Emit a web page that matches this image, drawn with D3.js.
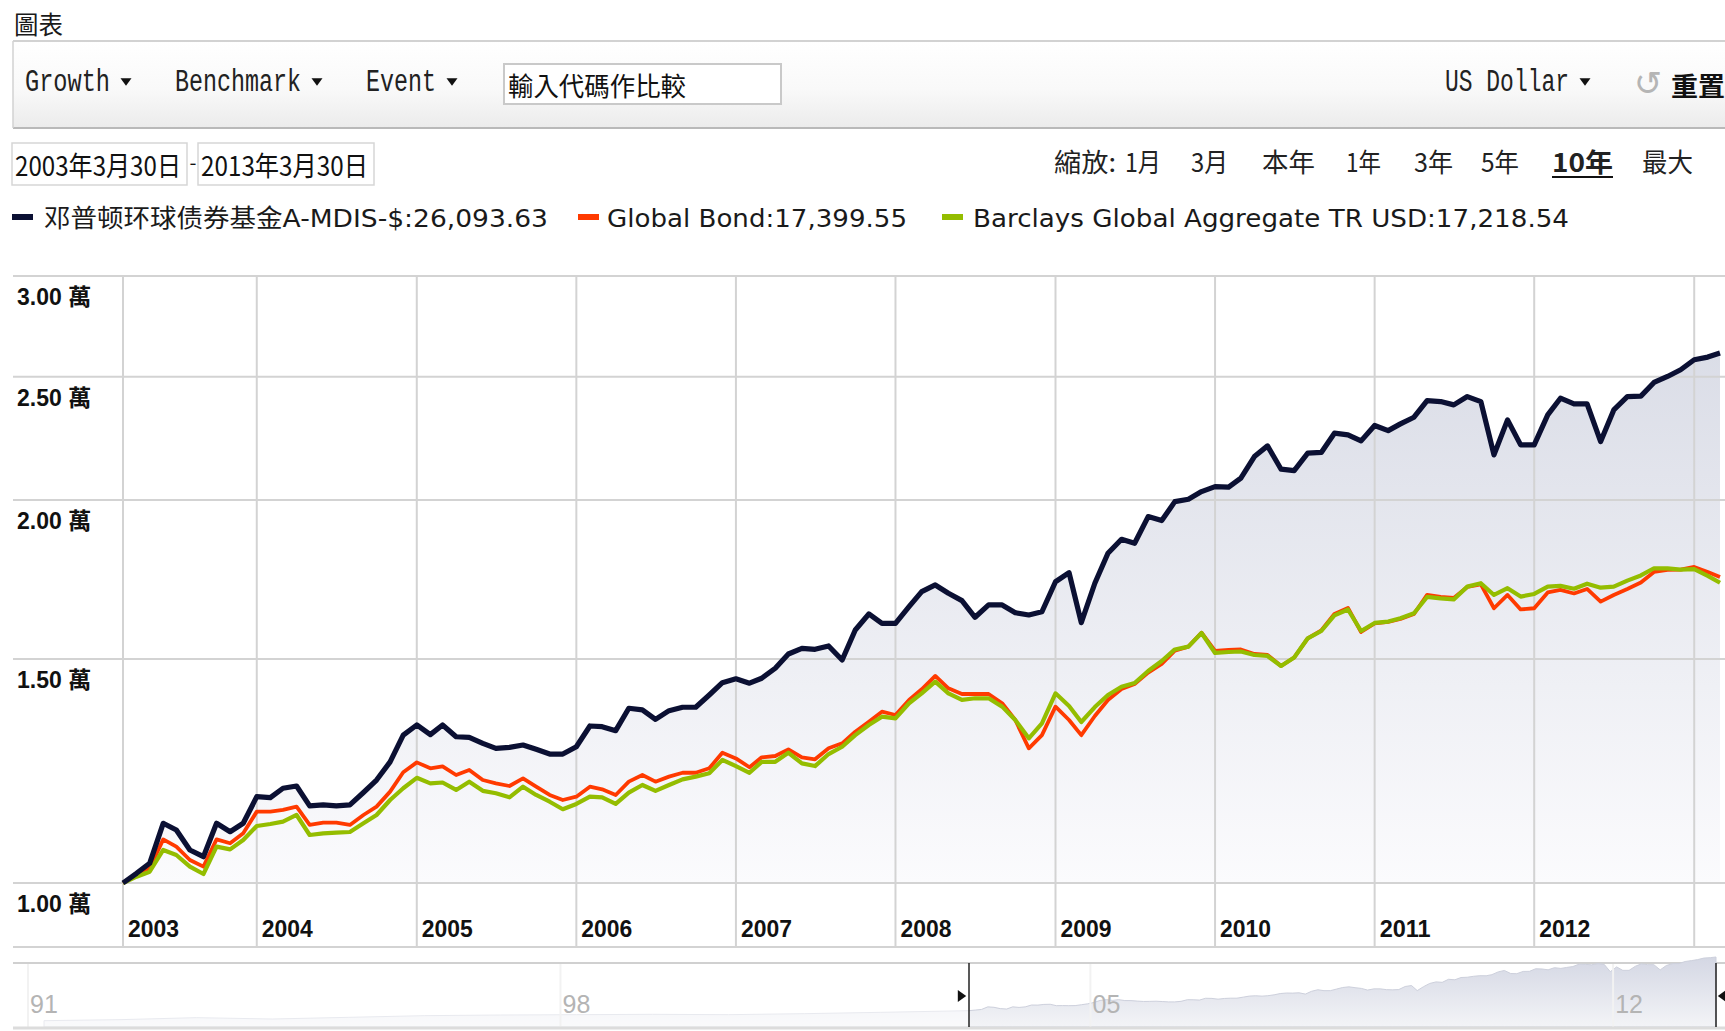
<!DOCTYPE html>
<html><head><meta charset="utf-8">
<script src="https://cdn.jsdelivr.net/npm/d3@7/dist/d3.min.js"></script>
<style>body{margin:0;background:#fff;overflow:hidden}svg{display:block}</style>
</head><body>
<svg id="c" width="1725" height="1031"></svg>
<script>
// ---------------- DATA ----------------
const chartTitle = "圖表";
const toolbarMenus = ["Growth", "Benchmark", "Event"];
const compareInput = "輸入代碼作比較";
const currencyMenu = "US Dollar";
const resetLabel = "重置";
const dateFrom = "2003年3月30日";
const dateTo = "2013年3月30日";
const zoomPrefix = "縮放:";
const zoomOptions = ["1月", "3月", "本年", "1年", "3年", "5年", "10年", "最大"];
const zoomActive = "10年";
const seriesNames = ["邓普顿环球债券基金A-MDIS-$", "Global Bond", "Barclays Global Aggregate TR USD"];
const seriesEndValues = ["26,093.63", "17,399.55", "17,218.54"];
const seriesColors = ["#0b1033", "#ff3a00", "#94bd00"];

// monthly growth of 10,000 (Mar 2003 .. Mar 2013)
const fundValues = [
10000,10177,10363,11141,11007,10616,10488,11141,10973,11141,
11691,11670,11870,11919,11497,11518,11497,11518,11780,12049,
12452,13068,13311,13080,13311,13031,13015,12876,12760,12783,
12836,12737,12629,12629,12797,13287,13270,13175,13720,13678,
13448,13660,13745,13745,14054,14370,14470,14357,14485,14750,
15136,15293,15264,15357,14973,15808,16273,16000,16000,16490,
16944,17151,16895,16670,16176,16541,16541,16312,16244,16340,
17250,17537,16019,17204,18163,18629,18495,19410,19270,19942,
20029,20307,20492,20470,20806,21636,22059,21148,21094,21769,
21800,22572,22503,22260,22890,22678,22955,23234,23944,23900,
23758,24118,23900,21702,23121,22099,22099,23331,24047,23801,
23801,22232,23543,24118,24140,24743,25013,25317,25780,25905,
26094];
const bondValues = [
10000,10146,10269,10822,10680,10425,10300,10822,10745,10941,
11379,11379,11414,11482,11108,11154,11154,11108,11310,11482,
11798,12220,12440,12307,12350,12159,12270,12049,11977,11919,
12086,11904,11727,11621,11691,11904,11847,11727,12013,12159,
12013,12123,12208,12208,12307,12660,12530,12330,12554,12584,
12737,12554,12509,12760,12876,13151,13390,13635,13554,13928,
14199,14546,14225,14079,14079,14079,13845,13431,12760,13068,
13760,13431,13068,13529,13928,14207,14336,14633,14865,15227,
15338,15731,15219,15246,15260,15136,15109,14811,15040,15572,
15793,16273,16451,15751,15996,16039,16127,16273,16843,16782,
16751,17089,17167,16442,16843,16406,16442,16919,16996,16888,
17027,16640,16843,17027,17229,17559,17623,17635,17719,17559,
17400];
const aggValues = [
10000,10115,10207,10616,10520,10300,10164,10680,10628,10809,
11087,11127,11175,11310,10908,10941,10954,10967,11141,11310,
11621,11870,12097,11977,11995,11834,12013,11815,11763,11678,
11904,11727,11585,11428,11538,11691,11678,11538,11776,11941,
11815,11941,12064,12123,12197,12495,12357,12208,12452,12452,
12659,12417,12357,12629,12797,13068,13311,13512,13473,13845,
14096,14396,14096,13928,13970,13970,13760,13431,12993,13350,
14096,13778,13383,13750,14054,14266,14362,14678,14946,15261,
15338,15723,15164,15191,15205,15109,15082,14811,15040,15572,
15779,16230,16406,15779,16011,16050,16150,16294,16782,16738,
16707,17098,17204,16843,17049,16793,16873,17098,17121,17035,
17190,17065,17098,17286,17449,17677,17670,17635,17647,17433,
17219];
const yTicks = [10000, 15000, 20000, 25000, 30000];
const yTickLabels = ["1.00 萬", "1.50 萬", "2.00 萬", "2.50 萬", "3.00 萬"];
const yearLabels = ["2003","2004","2005","2006","2007","2008","2009","2010","2011","2012"];
// navigator: long history before the selected window (estimated)
const navEarlyYears = [1991,1992,1993,1994,1995,1996,1997,1998,1999,2000,2001,2002];
const navEarlyValues = [7000,7300,7900,7500,8000,8500,8700,8800,8900,8800,9100,9500];
const navTickYears = [1991, 1998, 2005, 2012];
const navTickLabels = ["91", "98", "05", "12"];

// ---------------- DRAW ----------------
const svg = d3.select("#c");
const defs = svg.append("defs");
const CJK = "'Noto Sans CJK TC','Noto Sans CJK SC',sans-serif";
const MONO = "'Liberation Mono','Noto Sans CJK TC',monospace";
const SANS = "'DejaVu Sans','Noto Sans CJK SC',sans-serif";
const AX = "'Liberation Sans','Noto Sans CJK TC',sans-serif";

function lg(id, y1, y2, stops) {
  const g = defs.append("linearGradient").attr("id", id)
    .attr("gradientUnits", "userSpaceOnUse").attr("x1", 0).attr("x2", 0).attr("y1", y1).attr("y2", y2);
  stops.forEach(s => g.append("stop").attr("offset", s[0]).attr("stop-color", s[1]));
}
lg("tb", 41, 129, [[0, "#ffffff"], [0.55, "#f9f9f9"], [1, "#ebebeb"]]);
lg("area", 276, 883, [[0, "#d6d9e4"], [1, "#fbfbfd"]]);
lg("navArea", 955, 1027, [[0, "#d3d6e3"], [1, "#f3f4f7"]]);

function txt(parent, s, x, y, o = {}) {
  const t = parent.append("text").attr("x", x).attr("y", y).text(s)
    .attr("font-family", o.font || CJK).attr("font-size", o.size || 24)
    .attr("fill", o.fill || "#1a1a1a");
  if (o.weight) t.attr("font-weight", o.weight);
  if (o.width) t.attr("textLength", o.width).attr("lengthAdjust", "spacingAndGlyphs");
  if (o.anchor) t.attr("text-anchor", o.anchor);
  return t;
}
function tri(parent, cx, cy, dir, s, fill) {
  let p;
  if (dir === "down") p = `M${cx - s},${cy - s * 0.7}L${cx + s},${cy - s * 0.7}L${cx},${cy + s * 0.7}Z`;
  if (dir === "right") p = `M${cx - s * 0.7},${cy - s}L${cx + s * 0.7},${cy}L${cx - s * 0.7},${cy + s}Z`;
  if (dir === "left") p = `M${cx + s * 0.7},${cy - s}L${cx - s * 0.7},${cy}L${cx + s * 0.7},${cy + s}Z`;
  parent.append("path").attr("d", p).attr("fill", fill || "#111");
}

// title
txt(svg, chartTitle, 14, 34, { size: 25, width: 49 });

// toolbar
const tb = svg.append("g");
tb.append("rect").attr("x", 13).attr("y", 41).attr("width", 1720).attr("height", 88).attr("fill", "url(#tb)");
tb.append("line").attr("x1", 13).attr("x2", 1725).attr("y1", 41).attr("y2", 41).attr("stroke", "#d2d2d2").attr("stroke-width", 2);
tb.append("line").attr("x1", 13).attr("x2", 1725).attr("y1", 128).attr("y2", 128).attr("stroke", "#b9b9b9").attr("stroke-width", 2);
tb.append("line").attr("x1", 13).attr("x2", 13).attr("y1", 41).attr("y2", 128).attr("stroke", "#d2d2d2").attr("stroke-width", 1.5);
const menuX = [25, 175, 366], menuW = [85, 126, 70], menuTri = [126, 317, 452];
toolbarMenus.forEach((m, i) => {
  txt(tb, m, menuX[i], 91, { font: MONO, size: 31, width: menuW[i], fill: "#222" });
  tri(tb, menuTri[i], 82, "down", 5.5);
});
tb.append("rect").attr("x", 504).attr("y", 64).attr("width", 277).attr("height", 40)
  .attr("fill", "#fff").attr("stroke", "#c9c9c9").attr("stroke-width", 2);
txt(tb, compareInput, 508, 96, { size: 26, width: 178, fill: "#111" });
txt(tb, currencyMenu, 1445, 91, { font: MONO, size: 31, width: 124, fill: "#222" });
tri(tb, 1585, 82, "down", 5.5);
txt(tb, "↺", 1634, 95, { font: "'DejaVu Sans',sans-serif", size: 34, fill: "#b5b5b5" });
txt(tb, resetLabel, 1671, 96, { size: 26, width: 54, fill: "#111", weight: 700 });

// date boxes
const db = svg.append("g");
db.append("rect").attr("x", 12).attr("y", 143).attr("width", 175).attr("height", 42).attr("fill", "#fff").attr("stroke", "#d6d6d6").attr("stroke-width", 1.5);
db.append("rect").attr("x", 198).attr("y", 143).attr("width", 176).attr("height", 42).attr("fill", "#fff").attr("stroke", "#d6d6d6").attr("stroke-width", 1.5);
txt(db, dateFrom, 0, 0, { size: 24, width: 166, fill: "#111" }).attr("transform", "translate(15,176) scale(1,1.12)");
txt(db, "-", 189.5, 170, { size: 20, fill: "#111" });
txt(db, dateTo, 0, 0, { size: 24, width: 167, fill: "#111" }).attr("transform", "translate(201,176) scale(1,1.12)");

// zoom row
const zr = svg.append("g");
txt(zr, zoomPrefix, 1054, 172, { size: 26, width: 62, fill: "#222" });
const zX = [1125, 1191, 1262, 1346, 1414, 1481, 1552, 1642], zW = [36, 37, 53, 35, 39, 38, 61, 51];
zoomOptions.forEach((z, i) => {
  const act = z === zoomActive;
  txt(zr, z, zX[i], 172, { size: 26, width: zW[i], fill: "#222", weight: act ? 700 : null });
  if (act) zr.append("line").attr("x1", zX[i]).attr("x2", zX[i] + zW[i]).attr("y1", 177).attr("y2", 177).attr("stroke", "#111").attr("stroke-width", 2);
});

// legend
const lgG = svg.append("g");
const legSw = [12, 578, 942], legTx = [44, 607, 973], legW = [504, 300, 596];
seriesNames.forEach((n, i) => {
  lgG.append("rect").attr("x", legSw[i]).attr("y", 214).attr("width", 21).attr("height", 6).attr("fill", seriesColors[i]);
  txt(lgG, n + ":" + seriesEndValues[i], legTx[i], 227, { font: SANS, size: 25, width: legW[i], fill: "#1a1a1a" });
});

// ---------------- CHART ----------------
const months = d3.timeMonth.range(new Date(2003, 2, 1), new Date(2013, 3, 1));
const x = d3.scaleTime().domain([months[0], months[months.length - 1]]).range([123, 1720]);
const y = d3.scaleLog().domain([10000, 30000]).range([883, 276]);
const ch = svg.append("g");

const fundData = months.map((d, i) => ({ d, v: fundValues[i] }));
const bondData = months.map((d, i) => ({ d, v: bondValues[i] }));
const aggData = months.map((d, i) => ({ d, v: aggValues[i] }));

// area under fund
ch.append("path").datum(fundData)
  .attr("d", d3.area().x(p => x(p.d)).y0(y(10000)).y1(p => y(p.v)))
  .attr("fill", "url(#area)");

// grid
const grid = ch.append("g").attr("stroke", "#d3d3d3").attr("stroke-width", 2);
yTicks.forEach(t => grid.append("line").attr("x1", 13).attr("x2", 1725).attr("y1", y(t)).attr("y2", y(t)));
const yearTicks = d3.timeYear.range(new Date(2004, 0, 1), new Date(2013, 0, 2));
const gridXs = [x(months[0])].concat(yearTicks.map(d => x(d)));
gridXs.forEach(gx => grid.append("line").attr("x1", gx).attr("x2", gx).attr("y1", 276).attr("y2", 947));
grid.append("line").attr("x1", 13).attr("x2", 1725).attr("y1", 947).attr("y2", 947);

// y labels
yTicks.forEach((t, i) => txt(ch, yTickLabels[i], 17, y(t) + 29, { font: AX, size: 23, weight: 700, fill: "#111" }));
// year labels
yearLabels.forEach((l, i) => txt(ch, l, gridXs[i] + 5, 937, { font: AX, size: 24, weight: 700, width: 51, fill: "#111" }));

// lines
const line = d3.line().x(p => x(p.d)).y(p => y(p.v)).curve(d3.curveLinear);
ch.append("path").datum(bondData).attr("d", line).attr("fill", "none")
  .attr("stroke", seriesColors[1]).attr("stroke-width", 3.8).attr("stroke-linejoin", "round");
ch.append("path").datum(aggData).attr("d", line).attr("fill", "none")
  .attr("stroke", seriesColors[2]).attr("stroke-width", 4.2).attr("stroke-linejoin", "round");
ch.append("path").datum(fundData).attr("d", line).attr("fill", "none")
  .attr("stroke", seriesColors[0]).attr("stroke-width", 5.2).attr("stroke-linejoin", "round");

// ---------------- NAVIGATOR ----------------
const nav = svg.append("g");
const navData = navEarlyYears.map((yr, i) => ({ d: new Date(yr, 0, 1), v: navEarlyValues[i] })).concat(fundData);
const navX = d3.scaleTime().domain([new Date(1991, 0, 1), months[0], months[months.length - 1]]).range([44, 969, 1716]);
const navY = d3.scaleLinear().domain([0, 30000]).range([1044, 944]);
nav.append("line").attr("x1", 13).attr("x2", 1725).attr("y1", 963).attr("y2", 963).attr("stroke", "#d0d0d0").attr("stroke-width", 2);
nav.append("path").datum(navData)
  .attr("d", d3.area().x(p => navX(p.d)).y0(1027).y1(p => navY(p.v)))
  .attr("fill", "url(#navArea)").attr("stroke", "#cdd0dc").attr("stroke-width", 1);
nav.append("rect").attr("x", 13).attr("y", 964).attr("width", 969 - 13).attr("height", 63).attr("fill", "#fff").attr("opacity", 0.55);
navTickYears.forEach((yr, i) => {
  const tx = navX(new Date(yr, 0, 1));
  nav.append("line").attr("x1", tx - 16).attr("x2", tx - 16).attr("y1", 964).attr("y2", 1027).attr("stroke", "#f2f2f2").attr("stroke-width", 2);
  txt(nav, navTickLabels[i], tx, 1013, { font: AX, size: 25, anchor: "middle", fill: "#b4b4b4" });
});
nav.append("line").attr("x1", 13).attr("x2", 1725).attr("y1", 1028).attr("y2", 1028).attr("stroke", "#dcdcdc").attr("stroke-width", 3);
// handles
nav.append("line").attr("x1", 969).attr("x2", 969).attr("y1", 963).attr("y2", 1027).attr("stroke", "#222").attr("stroke-width", 1.5);
tri(nav, 962, 996, "right", 6, "#111");
nav.append("line").attr("x1", 1716).attr("x2", 1716).attr("y1", 963).attr("y2", 1027).attr("stroke", "#222").attr("stroke-width", 1.5);
tri(nav, 1722, 996, "left", 6, "#111");
</script>
</body></html>
